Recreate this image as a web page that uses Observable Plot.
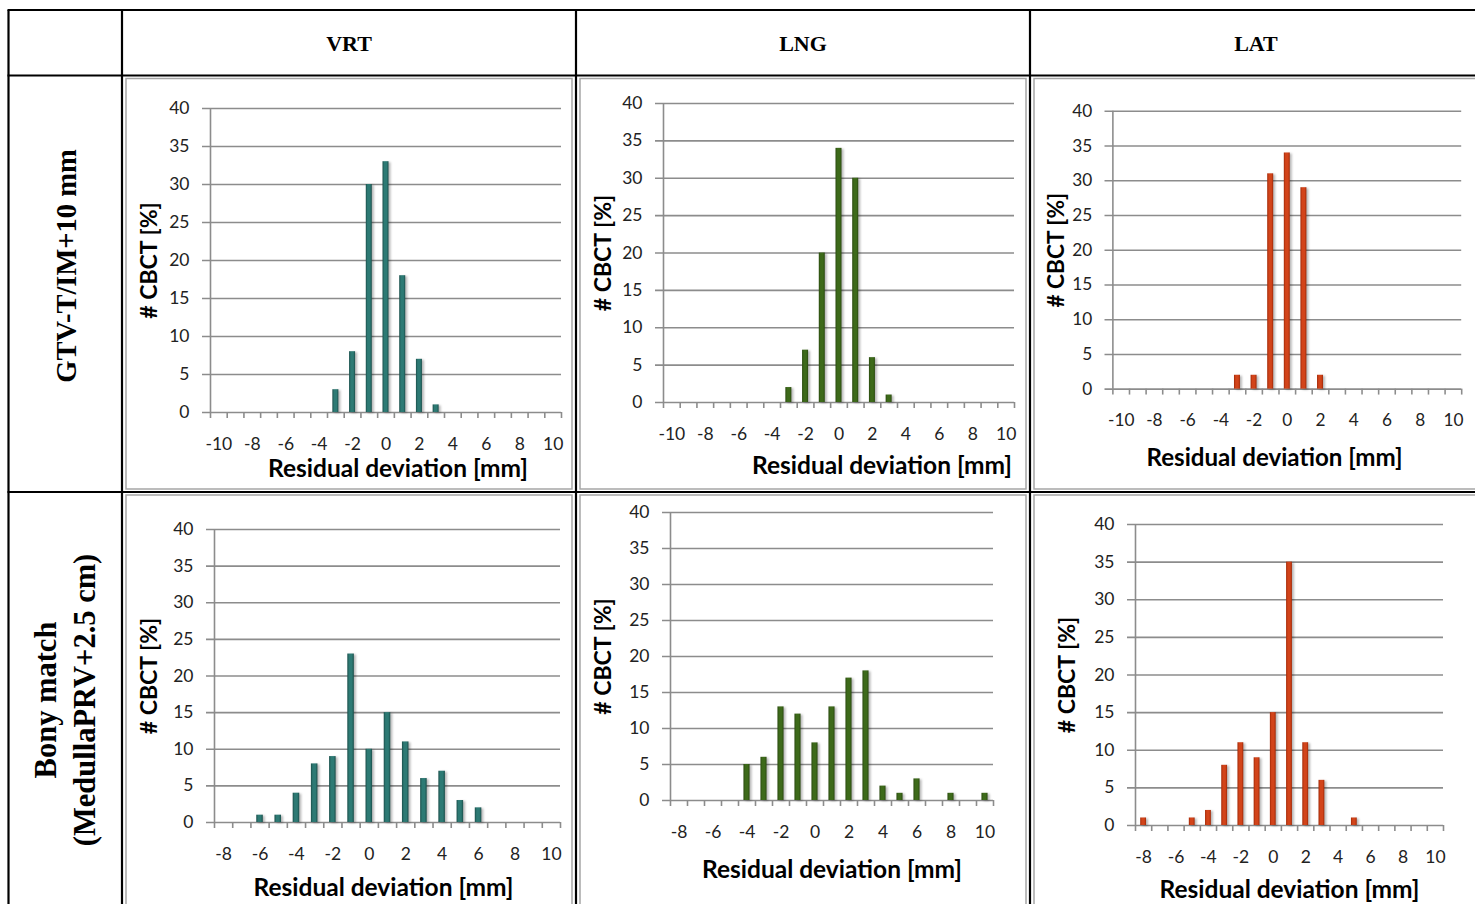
<!DOCTYPE html>
<html>
<head>
<meta charset="utf-8">
<script src="https://cdn.jsdelivr.net/npm/d3@7"></script>
<script src="https://cdn.jsdelivr.net/npm/@observablehq/plot@0.6"></script>
<style>
  body { margin: 0; background: #fff; }
  #sheet { position: relative; width: 1475px; height: 904px; overflow: hidden; background: #fff; }
  .panel { position: absolute; }
  .panel svg { overflow: visible; display: block; }
  .panel g[aria-label="rect"] rect { filter: drop-shadow(2px 1px 1.2px rgba(0,0,0,0.28)); }
  #grid { position: absolute; left: 0; top: 0; }
</style>
</head>
<body>
<svg width="0" height="0" style="position:absolute">
  <defs>
    <linearGradient id="barTeal" x1="0" x2="1" y1="0" y2="0">
      <stop offset="0" stop-color="#1b4f4b"/>
      <stop offset="0.3" stop-color="#2d7a74"/>
      <stop offset="0.7" stop-color="#2d7a74"/>
      <stop offset="1" stop-color="#1b4f4b"/>
    </linearGradient>
    <linearGradient id="barGreen" x1="0" x2="1" y1="0" y2="0">
      <stop offset="0" stop-color="#2a4a0f"/>
      <stop offset="0.3" stop-color="#3d6a1a"/>
      <stop offset="0.7" stop-color="#3d6a1a"/>
      <stop offset="1" stop-color="#2a4a0f"/>
    </linearGradient>
    <linearGradient id="barRed" x1="0" x2="1" y1="0" y2="0">
      <stop offset="0" stop-color="#a12806"/>
      <stop offset="0.3" stop-color="#d2441a"/>
      <stop offset="0.7" stop-color="#d2441a"/>
      <stop offset="1" stop-color="#a12806"/>
    </linearGradient>
  </defs>
</svg>
<div id="sheet"></div>
<script>
// Table headings
const columnHeads = ["VRT", "LNG", "LAT"];
const rowHeadTop = ["GTV-T/IM+10 mm"];
const rowHeadBottom = ["Bony match", "(MedullaPRV+2.5 cm)"];

// Axis categories (residual deviation in mm) and tick labels
const topCategories = [-10, -9, -8, -7, -6, -5, -4, -3, -2, -1, 0, 1, 2, 3, 4, 5, 6, 7, 8, 9, 10];
const bottomCategories = [-8, -7, -6, -5, -4, -3, -2, -1, 0, 1, 2, 3, 4, 5, 6, 7, 8, 9, 10];
const topTickLabels = [-10, -8, -6, -4, -2, 0, 2, 4, 6, 8, 10];
const bottomTickLabels = [-8, -6, -4, -2, 0, 2, 4, 6, 8, 10];
const percentTicks = [0, 5, 10, 15, 20, 25, 30, 35, 40];
const xTitle = "Residual deviation [mm]";
const yTitle = "# CBCT [%]";

// GTV-T/IM+10 mm match: share of CBCT scans per residual deviation
const vrtTopDeviation = [-3, -2, -1, 0, 1, 2, 3];
const vrtTopPercent   = [3, 8, 30, 33, 18, 7, 1];
const lngTopDeviation = [-3, -2, -1, 0, 1, 2, 3];
const lngTopPercent   = [2, 7, 20, 34, 30, 6, 1];
const latTopDeviation = [-3, -2, -1, 0, 1, 2];
const latTopPercent   = [2, 2, 31, 34, 29, 2];

// Bony match (MedullaPRV+2.5 cm)
const vrtBottomDeviation = [-6, -5, -4, -3, -2, -1, 0, 1, 2, 3, 4, 5, 6];
const vrtBottomPercent   = [1, 1, 4, 8, 9, 23, 10, 15, 11, 6, 7, 3, 2];
const lngBottomDeviation = [-4, -3, -2, -1, 0, 1, 2, 3, 4, 5, 6, 8, 10];
const lngBottomPercent   = [5, 6, 13, 12, 8, 13, 17, 18, 2, 1, 3, 1, 1];
const latBottomDeviation = [-8, -5, -4, -3, -2, -1, 0, 1, 2, 3, 5];
const latBottomPercent   = [1, 1, 2, 8, 11, 9, 15, 35, 11, 6, 1];

// Page placement of each plot frame (left, right, top = 40 %, bottom = 0 %)
const panels = [
  {dev: vrtTopDeviation, pct: vrtTopPercent, cats: topCategories, ticks: topTickLabels, fill: "url(#barTeal)",
   left: 210, right: 561, top: 108, bottom: 412, titleDx: 12, titleDy: 57, yTitleX: 149},
  {dev: lngTopDeviation, pct: lngTopPercent, cats: topCategories, ticks: topTickLabels, fill: "url(#barGreen)",
   left: 663, right: 1014, top: 103, bottom: 402, titleDx: 43, titleDy: 64, yTitleX: 603},
  {dev: latTopDeviation, pct: latTopPercent, cats: topCategories, ticks: topTickLabels, fill: "url(#barRed)",
   left: 1114, right: 1468, top: 111, bottom: 393, titleDx: -13, titleDy: 70, yTitleX: 1057},
  {dev: vrtBottomDeviation, pct: vrtBottomPercent, cats: bottomCategories, ticks: bottomTickLabels, fill: "url(#barTeal)",
   left: 214, right: 560, top: 529, bottom: 822, titleDx: -4, titleDy: 66, yTitleX: 149},
  {dev: lngBottomDeviation, pct: lngBottomPercent, cats: bottomCategories, ticks: bottomTickLabels, fill: "url(#barGreen)",
   left: 670, right: 993, top: 512, bottom: 800, titleDx: 0, titleDy: 70, yTitleX: 603},
  {dev: latBottomDeviation, pct: latBottomPercent, cats: bottomCategories, ticks: bottomTickLabels, fill: "url(#barRed)",
   left: 1135, right: 1443, top: 524, bottom: 825, titleDx: 0, titleDy: 65, yTitleX: 1067}
];

const M = {left: 110, right: 14, top: 14, bottom: 90};
const axisGray = "#8c8c8c";
const sheet = document.getElementById("sheet");

function histogram(p) {
  const fw = p.right - p.left, fh = p.bottom - p.top;
  const n = p.cats.length;
  const step = fw / n;
  const inset = step * 0.32;
  const lo = p.cats[0] - 0.5, hi = p.cats[n - 1] + 0.5;
  const rows = p.dev.map((d, i) => ({deviation: d, percent: p.pct[i]}));
  const bounds = p.cats.map(c => c - 0.5).concat([hi]);
  return Plot.plot({
    width: fw + M.left + M.right,
    height: fh + M.top + M.bottom,
    marginLeft: M.left, marginRight: M.right, marginTop: M.top, marginBottom: M.bottom,
    style: {fontFamily: "Lato, sans-serif", fontSize: "17.5px", color: "#222", background: "transparent", overflow: "visible"},
    x: {type: "linear", domain: [lo, hi], ticks: p.ticks, tickSize: 0, tickPadding: 25, tickFormat: d => String(d), label: null},
    y: {type: "linear", domain: [0, 40], ticks: percentTicks, tickSize: 0, tickPadding: 21, label: null},
    marks: [
      Plot.ruleY(percentTicks, {y: d => d, stroke: axisGray, strokeWidth: 1.6, insetLeft: -8}),
      Plot.ruleX([lo], {x: d => d, y1: 0, y2: 40, stroke: axisGray, strokeWidth: 1.6}),
      Plot.ruleX(bounds, {x: d => d, y1: 0, y2: 0, insetBottom: -6, stroke: axisGray, strokeWidth: 1.6}),
      Plot.rectY(rows, {x1: d => d.deviation - 0.5, x2: d => d.deviation + 0.5, y1: 0, y2: "percent",
                        insetLeft: inset, insetRight: inset, fill: p.fill}),
      Plot.text([xTitle], {text: d => d, frameAnchor: "bottom", dx: p.titleDx, dy: p.titleDy,
                           textAnchor: "middle", lineAnchor: "middle",
                           fontSize: 24.5, fontWeight: "bold", fill: "#000"}),
      Plot.text([yTitle], {text: d => d, frameAnchor: "left", dx: p.yTitleX - p.left, rotate: -90,
                           textAnchor: "middle", lineAnchor: "middle",
                           fontSize: 23, fontWeight: "bold", fill: "#000"})
    ]
  });
}

for (const p of panels) {
  const holder = document.createElement("div");
  holder.className = "panel";
  holder.style.left = (p.left - M.left) + "px";
  holder.style.top = (p.top - M.top) + "px";
  holder.appendChild(histogram(p));
  sheet.appendChild(holder);
}

// Table rules, chart-area borders and row/column headings
const ns = "http://www.w3.org/2000/svg";
const grid = document.createElementNS(ns, "svg");
grid.setAttribute("id", "grid");
grid.setAttribute("width", 1475);
grid.setAttribute("height", 904);
sheet.appendChild(grid);

function el(name, attrs, text) {
  const e = document.createElementNS(ns, name);
  for (const [k, v] of Object.entries(attrs)) e.setAttribute(k, v);
  if (text != null) e.textContent = text;
  grid.appendChild(e);
  return e;
}

const colEdges = [8.5, 122, 576, 1030, 1482];
const rowEdges = [10, 75.5, 492, 915];
// gray chart-area frames inside each chart cell
for (let r = 1; r < 3; r++) {
  for (let c = 1; c < 4; c++) {
    el("rect", {x: colEdges[c] + 4, y: rowEdges[r] + 3, width: colEdges[c + 1] - colEdges[c] - 8,
                height: rowEdges[r + 1] - rowEdges[r] - 6, fill: "none", stroke: "#a6a6a6", "stroke-width": 1.5});
  }
}
for (const y of rowEdges) el("line", {x1: colEdges[0] - 1, x2: 1482, y1: y, y2: y, stroke: "#000", "stroke-width": 2.2});
for (const x of colEdges) el("line", {x1: x, x2: x, y1: rowEdges[0], y2: 915, stroke: "#000", "stroke-width": 2.2});

const serif = "'Liberation Serif', 'Times New Roman', serif";
columnHeads.forEach((t, i) => {
  el("text", {x: (colEdges[i + 1] + colEdges[i + 2]) / 2, y: 43, "text-anchor": "middle", dy: "0.35em",
              "font-family": serif, "font-weight": "bold", "font-size": 22, fill: "#000"}, t);
});
el("text", {transform: "translate(66,266) rotate(-90)", "text-anchor": "middle", dy: "0.35em",
            "font-family": serif, "font-weight": "bold", "font-size": 28.5, fill: "#000"}, rowHeadTop[0]);
el("text", {transform: "translate(45,700) rotate(-90)", "text-anchor": "middle", dy: "0.35em",
            "font-family": serif, "font-weight": "bold", "font-size": 30.5, fill: "#000"}, rowHeadBottom[0]);
el("text", {transform: "translate(84,700) rotate(-90)", "text-anchor": "middle", dy: "0.35em",
            "font-family": serif, "font-weight": "bold", "font-size": 30.5, fill: "#000"}, rowHeadBottom[1]);
</script>
</body>
</html>
